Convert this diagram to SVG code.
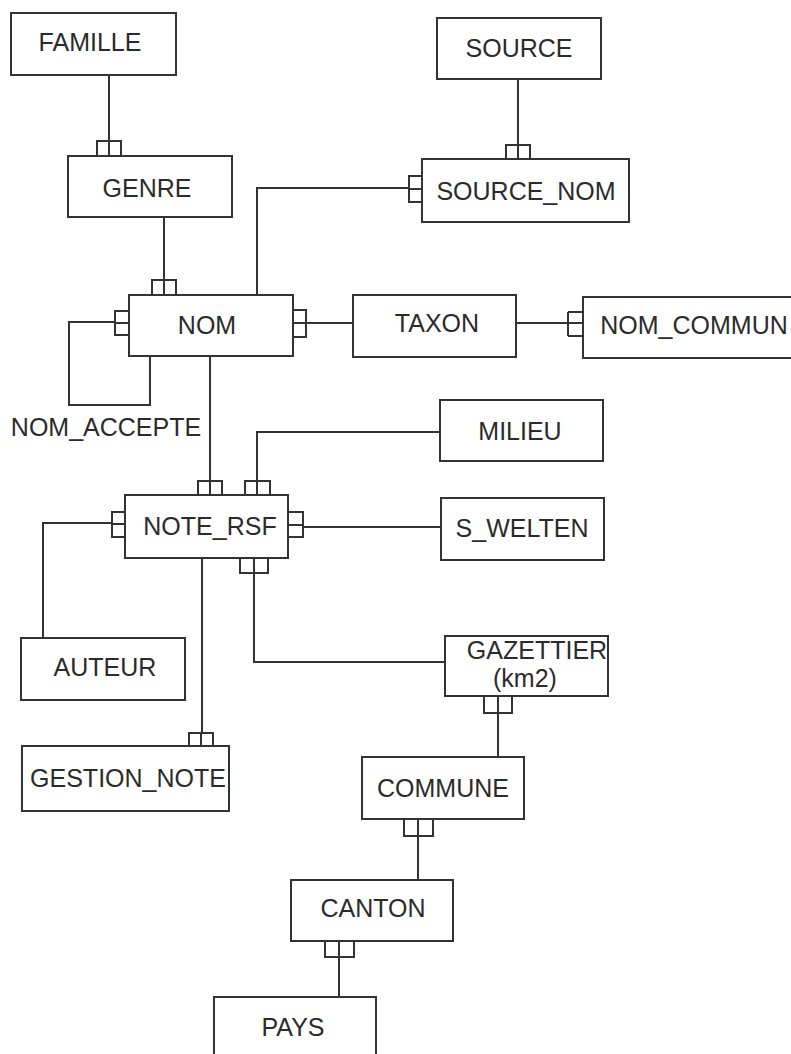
<svg xmlns="http://www.w3.org/2000/svg" width="791" height="1054" viewBox="0 0 791 1054">
<style>
.box{fill:#fff;stroke:#333;stroke-width:2}
.lbl{font-family:"Liberation Sans",Arial,sans-serif;font-size:25px;fill:#2b2b2b;text-anchor:middle;dominant-baseline:central}
.c{fill:none;stroke:#333;stroke-width:2}
.m{fill:#fff;stroke:#333;stroke-width:2}
</style>
<rect width="791" height="1054" fill="#fff"/>
<g id="connectors">
<path class="c" d="M109,75 V156"/>
<rect class="m" x="97" y="141" width="24" height="15"/>
<path class="c" d="M109,141 V156"/>
<path class="c" d="M518,79 V159"/>
<rect class="m" x="506" y="145" width="24" height="14"/>
<path class="c" d="M518,145 V159"/>
<path class="c" d="M164,217 V295"/>
<rect class="m" x="152" y="280" width="24" height="15"/>
<path class="c" d="M164,280 V295"/>
<path class="c" d="M257,295 V188 H422"/>
<rect class="m" x="409" y="176" width="13" height="26"/>
<path class="c" d="M409,189 H422"/>
<path class="c" d="M150,356 V405 H69 V322 H129"/>
<rect class="m" x="115" y="311" width="14" height="24"/>
<path class="c" d="M115,323 H129"/>
<path class="c" d="M293,323 H353"/>
<rect class="m" x="293" y="310" width="13" height="27"/>
<path class="c" d="M293,323 H306"/>
<path class="c" d="M516,323 H583"/>
<path class="c" d="M568,312 V336 M568,312 H583 M568,336 H583"/>
<path class="c" d="M210,356 V495"/>
<rect class="m" x="198" y="481" width="24" height="14"/>
<path class="c" d="M210,481 V495"/>
<path class="c" d="M257,495 V432 H440"/>
<rect class="m" x="245" y="481" width="25" height="14"/>
<path class="c" d="M257,481 V495"/>
<path class="c" d="M125,523 H43 V638"/>
<rect class="m" x="112" y="512" width="13" height="25"/>
<path class="c" d="M112,524 H125"/>
<path class="c" d="M288,527 H441"/>
<rect class="m" x="288" y="512" width="15" height="25"/>
<path class="c" d="M288,525 H303"/>
<path class="c" d="M254,558 V662 H445"/>
<rect class="m" x="240" y="558" width="28" height="15"/>
<path class="c" d="M254,558 V573"/>
<path class="c" d="M202,558 V746"/>
<rect class="m" x="189" y="733" width="24" height="13"/>
<path class="c" d="M201,733 V746"/>
<path class="c" d="M498,696 V757"/>
<rect class="m" x="484" y="696" width="28" height="17"/>
<path class="c" d="M498,696 V713"/>
<path class="c" d="M418,819 V880"/>
<rect class="m" x="404" y="819" width="29" height="17"/>
<path class="c" d="M418,819 V836"/>
<path class="c" d="M339,941 V997"/>
<rect class="m" x="325" y="941" width="29" height="16"/>
<path class="c" d="M339,941 V957"/>
</g>
<g id="FAMILLE"><rect class="box" x="11" y="13" width="165" height="62"/><text class="lbl" x="90" y="42">FAMILLE</text></g>
<g id="GENRE"><rect class="box" x="68" y="156" width="164" height="61"/><text class="lbl" x="147" y="188">GENRE</text></g>
<g id="SOURCE"><rect class="box" x="437" y="18" width="164" height="61"/><text class="lbl" x="519" y="48">SOURCE</text></g>
<g id="SOURCE_NOM"><rect class="box" x="422" y="159" width="207" height="63"/><text class="lbl" x="526" y="191">SOURCE_NOM</text></g>
<g id="NOM"><rect class="box" x="129" y="295" width="164" height="61"/><text class="lbl" x="207" y="325">NOM</text></g>
<g id="NOM_ACCEPTE"><text class="lbl" x="106" y="427">NOM_ACCEPTE</text></g>
<g id="TAXON"><rect class="box" x="353" y="295" width="163" height="62"/><text class="lbl" x="437" y="323">TAXON</text></g>
<g id="NOM_COMMUN"><rect class="box" x="583" y="297" width="220" height="61"/><text class="lbl" x="694" y="325">NOM_COMMUN</text></g>
<g id="MILIEU"><rect class="box" x="440" y="400" width="163" height="61"/><text class="lbl" x="520" y="431">MILIEU</text></g>
<g id="NOTE_RSF"><rect class="box" x="125" y="495" width="163" height="63"/><text class="lbl" x="210" y="526">NOTE_RSF</text></g>
<g id="S_WELTEN"><rect class="box" x="441" y="498" width="163" height="62"/><text class="lbl" x="522" y="528">S_WELTEN</text></g>
<g id="AUTEUR"><rect class="box" x="21" y="638" width="164" height="62"/><text class="lbl" x="105" y="667">AUTEUR</text></g>
<g id="GAZETTIER"><rect class="box" x="445" y="636" width="163" height="60"/><text class="lbl" x="537" y="650">GAZETTIER</text><text class="lbl" x="525" y="678">(km2)</text></g>
<g id="GESTION_NOTE"><rect class="box" x="22" y="746" width="207" height="65"/><text class="lbl" x="128" y="778">GESTION_NOTE</text></g>
<g id="COMMUNE"><rect class="box" x="362" y="757" width="162" height="62"/><text class="lbl" x="443" y="788">COMMUNE</text></g>
<g id="CANTON"><rect class="box" x="291" y="880" width="162" height="61"/><text class="lbl" x="373" y="908">CANTON</text></g>
<g id="PAYS"><rect class="box" x="214" y="997" width="162" height="70"/><text class="lbl" x="293" y="1027">PAYS</text></g>
</svg>
